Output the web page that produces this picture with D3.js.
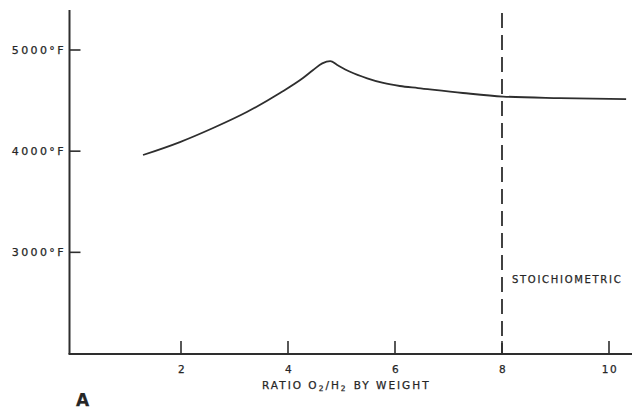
<!DOCTYPE html>
<html>
<head>
<meta charset="utf-8">
<script src="https://cdn.jsdelivr.net/npm/d3@7"></script>
<style>
  body { margin: 0; background: #fff; }
  svg { display: block; }
  text { font-family: "DejaVu Sans", sans-serif; fill: #262626; stroke: #262626; stroke-width: 0.25px; }
</style>
</head>
<body>
<div id="chart"></div>
<script>
// flame temperature vs mixture ratio
var ratio = [1.29, 1.98, 2.6, 3.23, 3.85, 4.28, 4.47, 4.64, 4.79, 4.92, 5.16, 5.48, 5.78, 6.09, 6.43, 7.27, 8.02, 9.08, 10.32];
var tempF = [3962, 4090, 4229, 4387, 4575, 4723, 4802, 4868, 4891, 4852, 4785, 4720, 4674, 4644, 4624, 4575, 4540, 4525, 4515];

var xTicks = [2, 4, 6, 8, 10];
var yTicks = [3000, 4000, 5000];
var stoichRatio = 8;

var width = 632, height = 409;
var ink = '#2e2e2e';

var svg = d3.select('#chart').append('svg')
  .attr('width', width)
  .attr('height', height);

var x = d3.scaleLinear().domain([0, 10]).range([74, 609]);
var y = d3.scaleLinear().domain([2000, 5000]).range([353.5, 50]);

var axisX = 69.5;
var axisY = 354;

// axes lines
svg.append('line')
  .attr('x1', axisX).attr('x2', axisX)
  .attr('y1', 10).attr('y2', axisY)
  .attr('stroke', ink).attr('stroke-width', 2);

svg.append('line')
  .attr('x1', axisX - 1).attr('x2', width)
  .attr('y1', axisY).attr('y2', axisY)
  .attr('stroke', ink).attr('stroke-width', 2);

// x ticks point up from the axis
svg.selectAll('.xtick').data(xTicks)
  .enter().append('line')
  .attr('class', 'xtick')
  .attr('x1', function(d) { return x(d); })
  .attr('x2', function(d) { return x(d); })
  .attr('y1', axisY).attr('y2', axisY - 13)
  .attr('stroke', ink).attr('stroke-width', 1.6);

svg.selectAll('.xlabel').data(xTicks)
  .enter().append('text')
  .attr('class', 'xlabel')
  .attr('x', function(d) { return x(d) + 1; })
  .attr('y', 373)
  .attr('text-anchor', 'middle')
  .attr('font-size', 10.5)
  .style('letter-spacing', '1.5px')
  .text(function(d) { return d; });

// y ticks point right from the axis
svg.selectAll('.ytick').data(yTicks)
  .enter().append('line')
  .attr('class', 'ytick')
  .attr('x1', axisX).attr('x2', axisX + 11)
  .attr('y1', function(d) { return y(d); })
  .attr('y2', function(d) { return y(d); })
  .attr('stroke', ink).attr('stroke-width', 1.6);

svg.selectAll('.ylabel').data(yTicks)
  .enter().append('text')
  .attr('class', 'ylabel')
  .attr('x', 66)
  .attr('y', function(d) { return y(d) + 4; })
  .attr('text-anchor', 'end')
  .attr('font-size', 11)
  .style('letter-spacing', '2.4px')
  .text(function(d) { return d + '°F'; });

// axis title with subscripts
var title = svg.append('text')
  .attr('x', 262).attr('y', 389)
  .attr('font-size', 10.5)
  .style('letter-spacing', '2px');
title.append('tspan').text('RATIO O');
title.append('tspan').attr('font-size', 7.5).attr('dy', 2).text('2');
title.append('tspan').attr('dy', -2).text('/H');
title.append('tspan').attr('font-size', 7.5).attr('dy', 2).text('2');
title.append('tspan').attr('dy', -2).attr('dx', 6).text('BY WEIGHT');

svg.append('text')
  .attr('x', 76).attr('y', 406)
  .attr('font-size', 17)
  .attr('font-weight', 'bold')
  .text('A');

// stoichiometric marker
svg.append('line')
  .attr('x1', x(stoichRatio)).attr('x2', x(stoichRatio))
  .attr('y1', 13).attr('y2', axisY)
  .attr('stroke', ink).attr('stroke-width', 1.8)
  .attr('stroke-dasharray', '15 7');

svg.append('text')
  .attr('x', 512).attr('y', 283)
  .attr('font-size', 10)
  .style('letter-spacing', '1.7px')
  .text('STOICHIOMETRIC');

// the curve
var line = d3.line()
  .x(function(d, i) { return x(ratio[i]); })
  .y(function(d) { return y(d); })
  .curve(d3.curveMonotoneX);

svg.append('path')
  .attr('d', line(tempF))
  .attr('fill', 'none')
  .attr('stroke', ink)
  .attr('stroke-width', 1.8);
</script>
</body>
</html>
